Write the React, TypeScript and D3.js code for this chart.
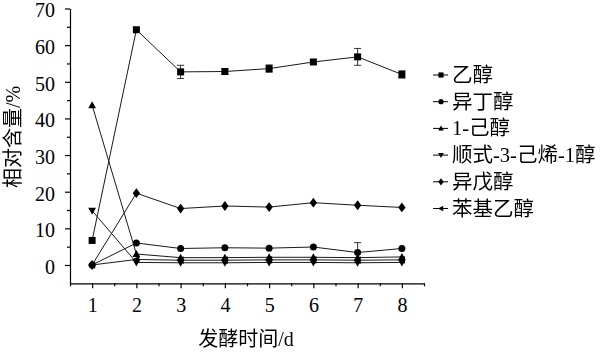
import React, { useEffect, useRef } from "react";
import * as d3 from "d3";

const days = [1, 2, 3, 4, 5, 6, 7, 8];
const seriesNames = ["乙醇", "异丁醇", "1-己醇", "顺式-3-己烯-1醇", "异戊醇", "苯基乙醇"];
const ethanol = [6.7, 64.2, 52.7, 52.8, 53.6, 55.4, 56.8, 52.0];
const ethanolErr = [0, 0, 1.8, 0.8, 1.0, 0.5, 2.3, 1.0];
const isobutanol = [0, 6.0, 4.5, 4.7, 4.6, 4.9, 3.4, 4.5];
const isobutanolErr = [0, 0, 0, 0, 0, 0, 2.7, 0];
const hexanol = [43.6, 3.0, 2.0, 2.0, 2.1, 2.1, 2.0, 2.2];
const hexenol = [14.8, 0.7, 0.6, 0.6, 0.7, 0.7, 0.6, 0.7];
const isoamyl = [0, 19.6, 15.4, 16.1, 15.8, 17.0, 16.3, 15.7];
const phenylethanol = [0, 1.5, 1.3, 1.3, 1.4, 1.4, 1.3, 1.4];
const yMajorTicks = [0, 10, 20, 30, 40, 50, 60, 70];
const yMinorTicks = [5, 15, 25, 35, 45, 55, 65];
const xMinorTicks = [0.5, 1.5, 2.5, 3.5, 4.5, 5.5, 6.5, 7.5, 8.5];

const markers = ["square", "circle", "up", "down", "diamond", "left"];
const allValues = [ethanol, isobutanol, hexanol, hexenol, isoamyl, phenylethanol];
const allErrs = [ethanolErr, isobutanolErr, null, null, null, null];

const FONT = "'Liberation Serif', 'Times New Roman', 'Noto Sans CJK SC', serif";

function markerPath(type: string, s: number): string {
  switch (type) {
    case "square":
      return `M${-s},${-s}h${2 * s}v${2 * s}h${-2 * s}Z`;
    case "circle":
      return `M${-s},0a${s},${s} 0 1,0 ${2 * s},0a${s},${s} 0 1,0 ${-2 * s},0Z`;
    case "up":
      return `M0,${-s * 1.15}L${s * 1.1},${s * 0.85}L${-s * 1.1},${s * 0.85}Z`;
    case "down":
      return `M0,${s * 1.15}L${s * 1.1},${-s * 0.85}L${-s * 1.1},${-s * 0.85}Z`;
    case "diamond":
      return `M0,${-s * 1.4}L${s * 1.05},0L0,${s * 1.4}L${-s * 1.05},0Z`;
    case "left":
      return `M${-s * 1.15},0L${s * 0.85},${-s * 1.1}L${s * 0.85},${s * 1.1}Z`;
  }
  return "";
}

export default function App() {
  const xAxisRef = useRef<SVGGElement>(null);
  const xMinorRef = useRef<SVGGElement>(null);
  const yAxisRef = useRef<SVGGElement>(null);
  const yMinorRef = useRef<SVGGElement>(null);

  const x = d3.scaleLinear().domain([0.5, 8.5]).range([70, 424]);
  const y = d3.scaleLinear().domain([-5, 70]).range([283.3, 8.5]);

  useEffect(() => {
    const xa = d3.select(xAxisRef.current!);
    xa.call(
      d3.axisBottom(x).tickValues(days).tickSize(5).tickSizeOuter(0).tickPadding(10).tickFormat(d3.format("d")) as any
    );
    const xm = d3.select(xMinorRef.current!);
    xm.call(d3.axisBottom(x).tickValues(xMinorTicks).tickSize(3).tickSizeOuter(0).tickFormat(() => "") as any);
    xm.select(".domain").remove();
    const ya = d3.select(yAxisRef.current!);
    ya.call(
      d3.axisLeft(y).tickValues(yMajorTicks).tickSize(5).tickSizeOuter(0).tickPadding(10).tickFormat(d3.format("d")) as any
    );
    ya.selectAll("text").attr("dy", "0.42em");
    const ym = d3.select(yMinorRef.current!);
    ym.call(d3.axisLeft(y).tickValues(yMinorTicks).tickSize(3).tickSizeOuter(0).tickFormat(() => "") as any);
    ym.select(".domain").remove();
    [xa, xm, ya, ym].forEach((g) => {
      g.selectAll("text").attr("font-family", FONT).attr("font-size", 20).attr("fill", "#000");
      g.selectAll("line").attr("stroke", "#000").attr("stroke-width", 1.2);
      g.selectAll(".domain").attr("stroke", "#000").attr("stroke-width", 1.2);
      g.attr("font-family", null).attr("font-size", null);
    });
  }, []);

  const line = d3
    .line<number>()
    .x((_, i) => x(days[i]))
    .y((d) => y(d));

  const legendX = 433;
  const legendY0 = 75;
  const legendStep = 26.7;

  return (
    <svg
      width={605}
      height={352}
      style={{ position: "absolute", left: 0, top: 0, background: "#fff" }}
    >
      <rect width={605} height={352} fill="#fff" />
      {allValues.map((vals, si) => (
        <g key={si}>
          <path d={line(vals) || ""} fill="none" stroke="#1a1a1a" strokeWidth={1} />
          {allErrs[si] &&
            vals.map((v, i) => {
              const e = allErrs[si]![i];
              if (!e) return null;
              const cx = x(days[i]);
              return (
                <g key={i} stroke="#333" strokeWidth={1}>
                  <line x1={cx} x2={cx} y1={y(v - e)} y2={y(v + e)} />
                  <line x1={cx - 3.5} x2={cx + 3.5} y1={y(v - e)} y2={y(v - e)} />
                  <line x1={cx - 3.5} x2={cx + 3.5} y1={y(v + e)} y2={y(v + e)} />
                </g>
              );
            })}
          {vals.map((v, i) => (
            <path
              key={i}
              d={markerPath(markers[si], 3.5)}
              transform={`translate(${x(days[i])},${y(v)})`}
              fill="#000"
            />
          ))}
        </g>
      ))}
      <g ref={yMinorRef} transform="translate(70,0)" />
      <g ref={yAxisRef} transform="translate(70,0)" />
      <g ref={xMinorRef} transform="translate(0,283.3)" />
      <g ref={xAxisRef} transform="translate(0,283.3)" />
      <g opacity={0.999}>
        <text
          transform="translate(13,137) rotate(-90)"
          textAnchor="middle"
          dominantBaseline="central"
          fontFamily={FONT}
          fontSize={20}
          fill="#000"
        >
          相对含量/%
        </text>
        <text x={246} y={346} textAnchor="middle" fontFamily={FONT} fontSize={20} fill="#000">
          发酵时间/d
        </text>
        {seriesNames.map((name, i) => {
          const ly = legendY0 + i * legendStep;
          return (
            <g key={name}>
              <line x1={legendX} x2={legendX + 15} y1={ly} y2={ly} stroke="#000" strokeWidth={1} />
              <path d={markerPath(markers[i], 2.6)} transform={`translate(${legendX + 8},${ly})`} fill="#000" />
              <text x={legendX + 19} y={ly + 7} fontFamily={FONT} fontSize={20.5} fill="#000">
                {name}
              </text>
            </g>
          );
        })}
      </g>
    </svg>
  );
}
